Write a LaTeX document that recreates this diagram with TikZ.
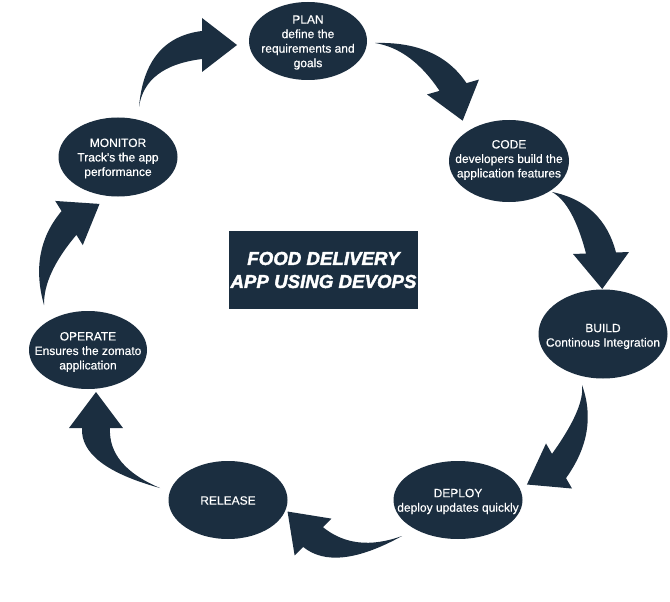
\documentclass[tikz,border=0pt]{standalone}
\usepackage{fontspec}
\setmainfont{Liberation Sans}
\newfontfamily\stagefont[FakeBold=0.4]{Liberation Sans}
\newfontfamily\titlefont[BoldItalicFeatures={FakeBold=2}]{Liberation Sans}
\usetikzlibrary{shapes.geometric,calc}
\definecolor{navy}{HTML}{1B2E40}
\tikzset{
  stage/.style={ellipse, fill=navy, draw=none, inner sep=0pt},
  stagetext/.style={text=white, align=center, inner sep=0pt, font=\stagefont\fontsize{12}{14.5}\selectfont},
  flowfill/.style={fill=navy},
  titlebox/.style={fill=navy, draw=none, text=white, align=center, inner sep=0pt,
    font=\titlefont\bfseries\itshape\fontsize{18.7}{23}\selectfont}
}
% #1 name, #2 tail, #3 control, #4 head base, #5 head angle, #6 half band, #7 half head, #8 head length
\newcommand\devarrow[8]{%
  \coordinate (#1-t) at #2;
  \coordinate (#1-c) at #3;
  \coordinate (#1-b) at #4;
  \coordinate (#1-ba) at ($(#1-b)+(#5+90:#6)$);
  \coordinate (#1-bb) at ($(#1-b)+(#5-90:#6)$);
  \coordinate (#1-ca) at ($(#1-c)+(#5+90:#6)$);
  \coordinate (#1-cb) at ($(#1-c)+(#5-90:#6)$);
  \coordinate (#1-ha) at ($(#1-b)+(#5+90:#7)$);
  \coordinate (#1-hb) at ($(#1-b)+(#5-90:#7)$);
  \coordinate (#1-tip) at ($(#1-b)+(#5:#8)$);
  \fill[flowfill] (#1-t) .. controls ($(#1-t)!2/3!(#1-ca)$) and ($(#1-ba)!2/3!(#1-ca)$) .. (#1-ba)
    -- (#1-ha) -- (#1-tip) -- (#1-hb) -- (#1-bb)
    .. controls ($(#1-bb)!2/3!(#1-cb)$) and ($(#1-t)!2/3!(#1-cb)$) .. (#1-t) -- cycle;
}
\begin{document}
\begin{tikzpicture}[x=1pt,y=-1pt]
\useasboundingbox (0,0) rectangle (670,602);
\fill[white] (0,0) rectangle (670,602);

% stages
\node[stage, minimum width=118pt, minimum height=78pt] (plan) at (308,41) {};
\node[stagetext] (plan-t) at ($(plan)+(0,1.5)$) {PLAN\\define the\\requirements and\\goals};
\node[stage, minimum width=120pt, minimum height=82pt] (code) at (509,161) {};
\node[stagetext] (code-t) at ($(code)+(0,-1)$) {CODE\\developers build the\\application features};
\node[stage, minimum width=129pt, minimum height=89pt] (build) at (603,334) {};
\node[stagetext] (build-t) at ($(build)+(0,2.5)$) {BUILD\\Continous Integration};
\node[stage, minimum width=129pt, minimum height=78pt] (deploy) at (458,500) {};
\node[stagetext] (deploy-t) at ($(deploy)+(0,1.5)$) {DEPLOY\\deploy updates quickly};
\node[stage, minimum width=119pt, minimum height=78pt] (release) at (228,500) {};
\node[stagetext] (release-t) at ($(release)+(0,0.5)$) {RELEASE};
\node[stage, minimum width=118pt, minimum height=78pt] (operate) at (88,350) {};
\node[stagetext] (operate-t) at ($(operate)+(0,2)$) {OPERATE\\Ensures the zomato\\application};
\node[stage, minimum width=119pt, minimum height=79pt] (monitor) at (118,157) {};
\node[stagetext] (monitor-t) at ($(monitor)+(0,1.5)$) {MONITOR\\Track's the app\\performance};

% title
\node[titlebox, minimum width=189pt, minimum height=78pt] (title) at (323.5,270) {FOOD DELIVERY\\APP USING DEVOPS};

% curved block arrows
\devarrow{a1}{(139,107)}{(145,52)}{(202,45)}{0}{14}{27}{35}
\devarrow{a2}{(375,43)}{(425,45)}{(453,87)}{74}{14}{27}{35}
\devarrow{a3}{(552,192)}{(588,203)}{(601,253)}{88}{15}{28}{36}
\devarrow{a4}{(582,385)}{(592,420)}{(559,466)}{150}{14}{26}{37}
\devarrow{a5}{(402,536)}{(345,563)}{(313,537)}{225}{14}{26}{36}
\devarrow{a6}{(160,488)}{(94,466)}{(96,428)}{270}{14}{27}{36}
\devarrow{a7}{(44,305)}{(36,262)}{(69,223)}{328}{14}{26}{36}
\end{tikzpicture}
\end{document}
